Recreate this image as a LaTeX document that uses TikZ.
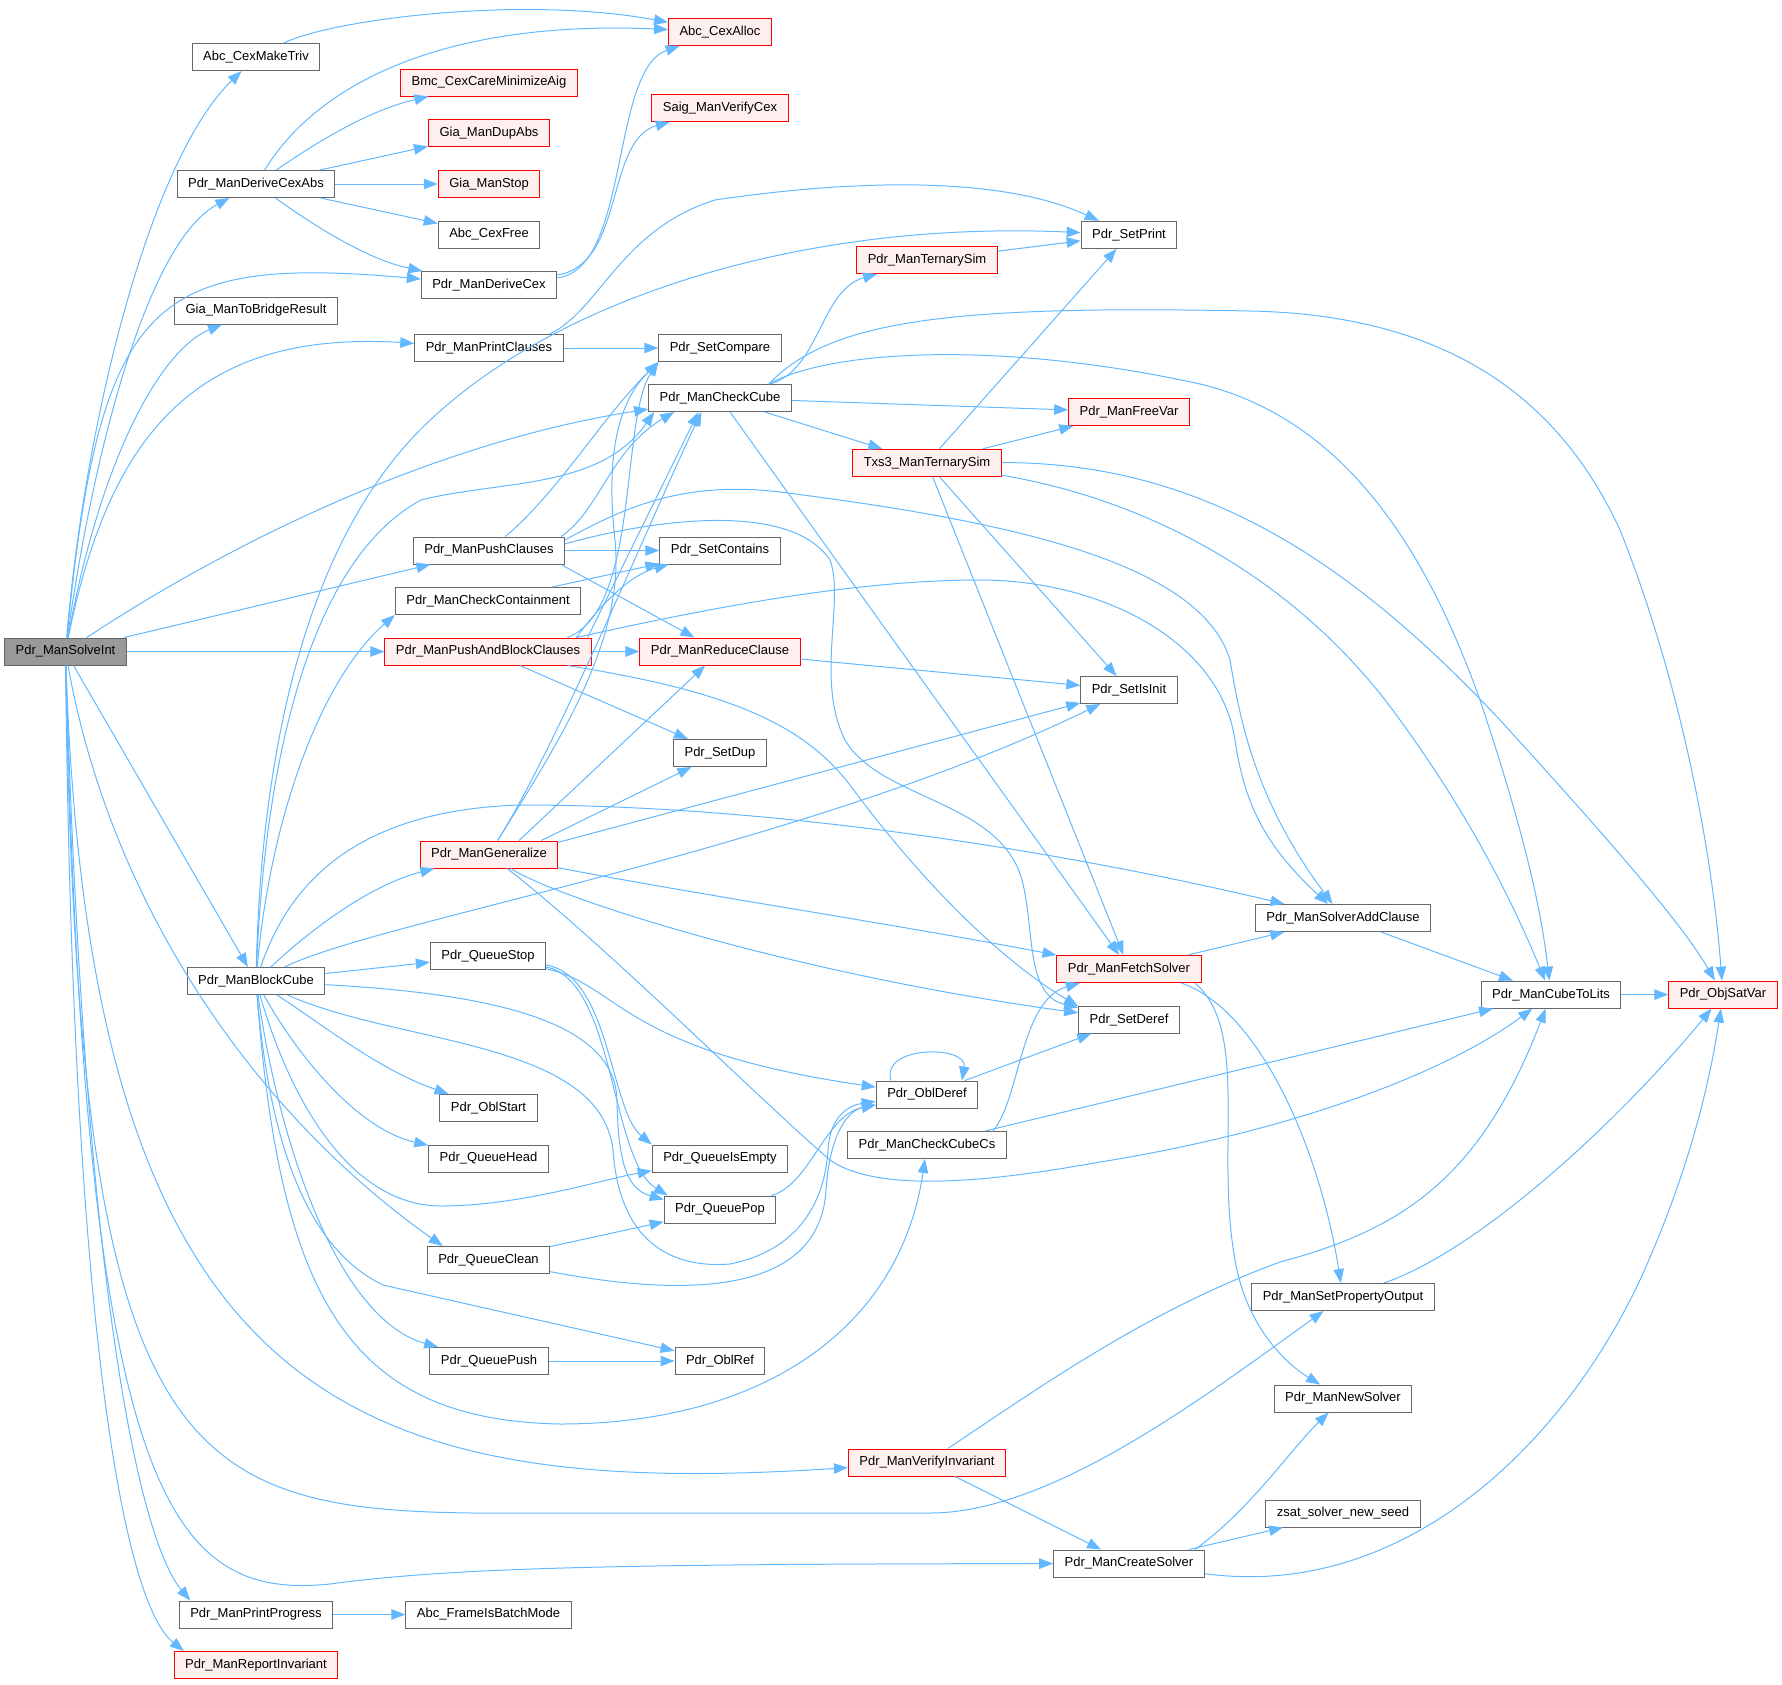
\documentclass[tikz,border=0pt]{standalone}
\usepackage{fontspec}
\setmainfont{Liberation Sans}
\usetikzlibrary{arrows.meta}
\definecolor{callblue}{HTML}{63B8FF}
\definecolor{fnframe}{HTML}{666666}
\definecolor{hotfill}{HTML}{FFF0F0}
\definecolor{rootfill}{HTML}{999999}
\tikzset{
  fn/.style   ={draw=fnframe, fill=white, line width=1pt, minimum height=27pt,
                inner xsep=11pt, inner ysep=0pt, font=\fontsize{13}{15}\selectfont},
  hot/.style  ={fn, draw=red, fill=hotfill},
  root/.style ={fn, fill=rootfill},
  call/.style ={draw=callblue, line width=1pt, -{Triangle[length=14pt,width=10.5pt]}},
}

\begin{document}
\begin{tikzpicture}[x=1pt, y=-1pt]
  \useasboundingbox (0,0) rectangle (1782,1684);

  % --- column 0 / 1 ---------------------------------------------------
  \node[root] (solve)    at (65.5,651.5) {Pdr\_ManSolveInt};
  \node[fn]   (triv)     at (256,57)     {Abc\_CexMakeTriv};
  \node[fn]   (dcabs)    at (256,184)    {Pdr\_ManDeriveCexAbs};
  \node[fn]   (bridge)   at (256,310.5)  {Gia\_ManToBridgeResult};
  \node[fn]   (block)    at (256,981)    {Pdr\_ManBlockCube};
  \node[fn]   (progress) at (256,1614.5) {Pdr\_ManPrintProgress};
  \node[hot]  (report)   at (256,1665)   {Pdr\_ManReportInvariant};

  % --- column 2 -------------------------------------------------------
  \node[hot] (bmc)      at (489,82.5)   {Bmc\_CexCareMinimizeAig};
  \node[hot] (dupabs)   at (489,133)    {Gia\_ManDupAbs};
  \node[hot] (giastop)  at (489,184)    {Gia\_ManStop};
  \node[fn]  (cexfree)  at (489,234.5)  {Abc\_CexFree};
  \node[fn]  (dcex)     at (489,285)    {Pdr\_ManDeriveCex};
  \node[fn]  (pclauses) at (489,348)    {Pdr\_ManPrintClauses};
  \node[fn]  (pushcl)   at (489,550.5)  {Pdr\_ManPushClauses};
  \node[fn]  (contain)  at (488,601)    {Pdr\_ManCheckContainment};
  \node[hot] (pab)      at (488,651.5)  {Pdr\_ManPushAndBlockClauses};
  \node[hot] (gener)    at (489,854.5)  {Pdr\_ManGeneralize};
  \node[fn]  (qstop)    at (488,956)    {Pdr\_QueueStop};
  \node[fn]  (oblstart) at (488.5,1108) {Pdr\_OblStart};
  \node[fn]  (qhead)    at (488.5,1158.5) {Pdr\_QueueHead};
  \node[fn]  (qclean)   at (488.5,1260) {Pdr\_QueueClean};
  \node[fn]  (qpush)    at (489,1361)   {Pdr\_QueuePush};
  \node[fn]  (batch)    at (488.5,1614.5) {Abc\_FrameIsBatchMode};

  % --- column 3 -------------------------------------------------------
  \node[hot] (cexalloc) at (720,31.8)   {Abc\_CexAlloc};
  \node[hot] (saig)     at (720,108)    {Saig\_ManVerifyCex};
  \node[fn]  (setcmp)   at (720,348)    {Pdr\_SetCompare};
  \node[fn]  (chkcube)  at (720,398)    {Pdr\_ManCheckCube};
  \node[fn]  (setcont)  at (720,550.5)  {Pdr\_SetContains};
  \node[hot] (reduce)   at (720,651.5)  {Pdr\_ManReduceClause};
  \node[fn]  (setdup)   at (720,753)    {Pdr\_SetDup};
  \node[fn]  (qempty)   at (720,1158.5) {Pdr\_QueueIsEmpty};
  \node[fn]  (qpop)     at (720,1209.5) {Pdr\_QueuePop};
  \node[fn]  (oblref)   at (720,1361)   {Pdr\_OblRef};

  % --- column 4 -------------------------------------------------------
  \node[hot] (tsim)     at (927,260)    {Pdr\_ManTernarySim};
  \node[hot] (txs3)     at (927,462.8)  {Txs3\_ManTernarySim};
  \node[fn]  (oblderef) at (927,1094.5) {Pdr\_OblDeref};
  \node[fn]  (cubecs)   at (927,1145)   {Pdr\_ManCheckCubeCs};
  \node[hot] (verify)   at (927,1462.5) {Pdr\_ManVerifyInvariant};

  % --- column 5 -------------------------------------------------------
  \node[fn]  (setprint) at (1129,234.8) {Pdr\_SetPrint};
  \node[hot] (freevar)  at (1129,412)   {Pdr\_ManFreeVar};
  \node[fn]  (isinit)   at (1129,690)   {Pdr\_SetIsInit};
  \node[hot] (fetch)    at (1129,969)   {Pdr\_ManFetchSolver};
  \node[fn]  (setderef) at (1129,1019.7) {Pdr\_SetDeref};
  \node[fn]  (create)   at (1129,1563.5) {Pdr\_ManCreateSolver};

  % --- columns 6-8 ----------------------------------------------------
  \node[fn]  (addcl)     at (1343,918)    {Pdr\_ManSolverAddClause};
  \node[fn]  (propout)   at (1343,1297)   {Pdr\_ManSetPropertyOutput};
  \node[fn]  (newsolver) at (1343,1398.5) {Pdr\_ManNewSolver};
  \node[fn]  (zsat)      at (1343,1513.5) {zsat\_solver\_new\_seed};
  \node[fn]  (cubelits)  at (1551,994.6)  {Pdr\_ManCubeToLits};
  \node[hot] (satvar)    at (1723,994.6)  {Pdr\_ObjSatVar};

  % --- calls of Pdr_ManSolveInt ---------------------------------------
  \draw[call] (solve) .. controls (85,420) and (150,160) .. (triv);
  \draw[call] (solve) .. controls (95,440) and (150,240) .. (dcabs);
  \draw[call] (solve) .. controls (100,300) and (150,255) .. (dcex);
  \draw[call] (solve) .. controls (100,460) and (160,350) .. (bridge);
  \draw[call] (solve) .. controls (110,430) and (200,330) .. (pclauses);
  \draw[call] (solve) .. controls (250,530) and (450,440) .. (chkcube);
  \draw[call] (solve) -- (pushcl);
  \draw[call] (solve) -- (pab);
  \draw[call] (solve) -- (block);
  \draw[call] (solve) .. controls (110,900) and (250,1110) .. (qclean.163);
  \draw[call] (solve) .. controls (90,1400) and (350,1500) .. (verify);
  \draw[call] (solve) .. controls (80,1550) and (200,1513) .. (600,1513) -- (930,1513)
              .. controls (1050,1513) and (1200,1400) .. (propout);
  \draw[call] (solve) .. controls (85,1500) and (170,1600) .. (330,1584)
              .. controls (450,1568) and (600,1564) .. (create);
  \draw[call] (solve) .. controls (85,1300) and (140,1540) .. (progress.168);
  \draw[call] (solve) .. controls (72,1300) and (120,1600) .. (report.169);

  % --- counter-example helpers ----------------------------------------
  \draw[call] (triv) .. controls (330,20) and (520,-5) .. (cexalloc);
  \draw[call] (dcabs) .. controls (320,80) and (450,20) .. (cexalloc);
  \draw[call] (dcabs) .. controls (320,140) and (370,110) .. (bmc);
  \draw[call] (dcabs) -- (dupabs);
  \draw[call] (dcabs) -- (giastop);
  \draw[call] (dcabs) -- (cexfree);
  \draw[call] (dcabs) .. controls (320,230) and (370,260) .. (dcex);
  \draw[call] (dcex) .. controls (630,270) and (610,70) .. (cexalloc);
  \draw[call] (dcex) .. controls (625,265) and (605,140) .. (saig);

  % --- printing -------------------------------------------------------
  \draw[call] (pclauses.13) .. controls (600,310) and (620,230) .. (715,200)
              .. controls (850,180) and (1000,175) .. (setprint);
  \draw[call] (pclauses) -- (setcmp);
  \draw[call] (tsim) -- (setprint);
  \draw[call] (txs3) -- (setprint);

  % --- Pdr_ManBlockCube -----------------------------------------------
  \draw[call] (block) .. controls (260,800) and (290,560) .. (421,429)
              .. controls (550,300) and (800,220) .. (setprint);
  \draw[call] (block) .. controls (265,760) and (310,560) .. (421,500)
              .. controls (500,480) and (600,490) .. (chkcube.-168);
  \draw[call] (block) .. controls (270,820) and (320,680) .. (contain.south west);
  \draw[call] (block) .. controls (310,930) and (370,885) .. (gener);
  \draw[call] (block) .. controls (290,880) and (360,810) .. (520,805)
              .. controls (800,805) and (1100,860) .. (addcl);
  \draw[call] (block) .. controls (380,920) and (800,850) .. (isinit);
  \draw[call] (block) -- (qstop);
  \draw[call] (block) .. controls (520,995) and (615,1030) .. (617,1100)
              .. controls (618,1170) and (630,1190) .. (qpop.170);
  \draw[call] (block) .. controls (400,1045) and (600,1040) .. (613,1150)
              .. controls (620,1250) and (680,1268) .. (730,1264)
              .. controls (800,1250) and (825,1200) .. (828,1150)
              .. controls (830,1115) and (850,1105) .. (oblderef);
  \draw[call] (block) .. controls (330,1030) and (380,1070) .. (oblstart);
  \draw[call] (block) .. controls (300,1060) and (360,1130) .. (qhead);
  \draw[call] (block) .. controls (290,1100) and (350,1205) .. (440,1206)
              .. controls (520,1206) and (600,1180) .. (qempty);
  \draw[call] (block) .. controls (280,1150) and (340,1320) .. (qpush);
  \draw[call] (block) .. controls (270,1150) and (310,1250) .. (383,1285) -- (oblref);
  \draw[call] (block) .. controls (280,1300) and (350,1420) .. (560,1424)
              .. controls (760,1424) and (900,1330) .. (cubecs);

  % --- Pdr_ManPushClauses ---------------------------------------------
  \draw[call] (pushcl) .. controls (560,490) and (600,420) .. (setcmp.south west);
  \draw[call] (pushcl.11) .. controls (600,510) and (610,450) .. (chkcube.-163);
  \draw[call] (pushcl) -- (setcont);
  \draw[call] (pushcl.-11) -- (reduce);
  \draw[call] (pushcl.8) .. controls (620,510) and (680,480) .. (780,492)
              .. controls (1000,520) and (1200,560) .. (1230,660)
              .. controls (1240,720) and (1255,800) .. (addcl);
  \draw[call] (pushcl.5) .. controls (650,520) and (790,500) .. (830,560)
              .. controls (845,600) and (815,680) .. (845,740)
              .. controls (880,800) and (1000,800) .. (1022,880)
              .. controls (1035,930) and (1025,995) .. (setderef);

  % --- Pdr_ManPushAndBlockClauses -------------------------------------
  \draw[call] (pab.10) .. controls (640,610) and (620,420) .. (setcmp.south west);
  \draw[call] (pab.8) -- (chkcube.-147);
  \draw[call] (pab.9) .. controls (600,605) and (630,575) .. (setcont);
  \draw[call] (pab) -- (reduce);
  \draw[call] (pab) -- (setdup);
  \draw[call] (pab.-10) .. controls (720,690) and (800,720) .. (850,785)
              .. controls (920,880) and (1000,960) .. (setderef.165);
  \draw[call] (pab.9) .. controls (700,610) and (850,580) .. (980,580)
              .. controls (1100,580) and (1220,640) .. (1235,740)
              .. controls (1245,810) and (1270,850) .. (addcl);
  \draw[call] (contain) -- (setcont);
  \draw[call] (reduce) -- (isinit);

  % --- Pdr_ManGeneralize ----------------------------------------------
  \draw[call] (gener) .. controls (560,740) and (650,520) .. (chkcube.-143);
  \draw[call] (gener) .. controls (560,740) and (625,640) .. (615,540)
              .. controls (605,450) and (620,400) .. (setcmp.south west);
  \draw[call] (gener.25) -- (reduce);
  \draw[call] (gener.15) -- (setdup);
  \draw[call] (gener.10) -- (isinit);
  \draw[call] (gener) .. controls (700,895) and (900,925) .. (fetch);
  \draw[call] (gener) .. controls (560,900) and (800,975) .. (setderef);
  \draw[call] (gener) .. controls (600,940) and (760,1100) .. (830,1160)
              .. controls (880,1195) and (1000,1180) .. (1100,1162)
              .. controls (1300,1130) and (1450,1070) .. (cubelits);

  % --- Pdr_ManCheckCube / Txs3_ManTernarySim --------------------------
  \draw[call] (chkcube) .. controls (820,370) and (820,290) .. (tsim);
  \draw[call] (chkcube.16) .. controls (830,320) and (950,305) .. (1250,311)
              .. controls (1450,315) and (1560,400) .. (1620,530)
              .. controls (1680,680) and (1712,850) .. (satvar);
  \draw[call] (chkcube.16) .. controls (830,350) and (1000,340) .. (1200,384)
              .. controls (1350,420) and (1430,560) .. (1480,700)
              .. controls (1520,820) and (1540,900) .. (cubelits);
  \draw[call] (chkcube) -- (freevar);
  \draw[call] (chkcube) -- (txs3);
  \draw[call] (chkcube) -- (fetch);
  \draw[call] (txs3) -- (freevar);
  \draw[call] (txs3) -- (isinit);
  \draw[call] (txs3) -- (fetch);
  \draw[call] (txs3) .. controls (1150,500) and (1300,580) .. (1400,720)
              .. controls (1480,830) and (1520,920) .. (cubelits);
  \draw[call] (txs3) .. controls (1200,462) and (1350,560) .. (1500,720)
              .. controls (1600,830) and (1680,920) .. (satvar);

  % --- solver side ----------------------------------------------------
  \draw[call] (addcl) -- (cubelits);
  \draw[call] (fetch) -- (addcl);
  \draw[call] (fetch.-15) .. controls (1260,1010) and (1320,1150) .. (propout);
  \draw[call] (fetch.-12) .. controls (1250,1030) and (1215,1150) .. (1235,1260)
              .. controls (1245,1320) and (1280,1360) .. (newsolver);
  \draw[call] (cubecs.12) .. controls (1020,1100) and (1020,1000) .. (fetch);
  \draw[call] (cubecs) -- (cubelits);
  \draw[call] (verify) .. controls (1050,1380) and (1150,1310) .. (1280,1262)
              .. controls (1400,1230) and (1480,1180) .. (cubelits);
  \draw[call] (verify) -- (create);
  \draw[call] (create.12) .. controls (1250,1510) and (1290,1450) .. (newsolver);
  \draw[call] (create) -- (zsat);
  \draw[call] (create) .. controls (1400,1600) and (1560,1450) .. (1640,1280)
              .. controls (1690,1170) and (1710,1080) .. (satvar);
  \draw[call] (propout) .. controls (1480,1250) and (1620,1120) .. (satvar);
  \draw[call] (cubelits) -- (satvar);

  % --- queue / obligations --------------------------------------------
  \draw[call] (qstop) .. controls (620,985) and (620,1050) .. (oblderef);
  \draw[call] (qstop) .. controls (610,975) and (610,1110) .. (qempty.north west);
  \draw[call] (qstop) .. controls (615,980) and (610,1160) .. (qpop.165);
  \draw[call] (qpop) .. controls (810,1185) and (825,1115) .. (oblderef);
  \draw[call] (qclean) -- (qpop);
  \draw[call] (qclean) .. controls (700,1300) and (820,1290) .. (826,1190)
              .. controls (830,1130) and (850,1110) .. (oblderef);
  \draw[call] (oblderef) -- (setderef);
  \draw[call] ([xshift=-36pt]oblderef.north) .. controls (880,1045) and (968,1045)
              .. ([xshift=35pt]oblderef.north);
  \draw[call] (qpush) -- (oblref);
  \draw[call] (progress) -- (batch);
\end{tikzpicture}
\end{document}
